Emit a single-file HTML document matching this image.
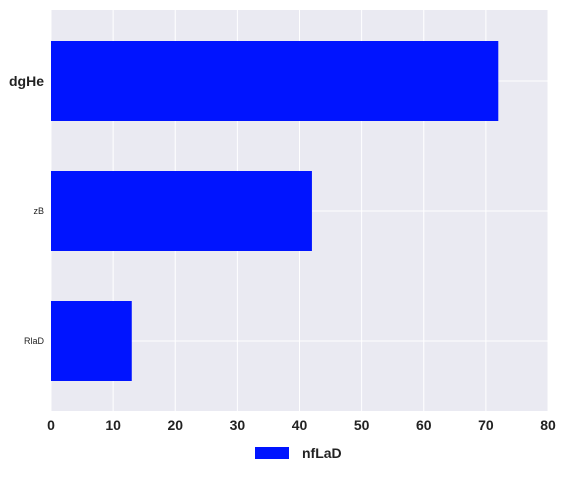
<!DOCTYPE html>
<html><head><meta charset="utf-8"><style>
body{margin:0;background:#fff;width:568px;height:497px;overflow:hidden}
text{font-family:"Liberation Sans",sans-serif}
</style></head><body>
<svg id="chart" width="568" height="497">
<rect x="51" y="10" width="497" height="401" fill="#eaeaf2"/>
<g id="grid"></g><g id="bars"></g><g id="xticks"></g><g id="ylabels"></g>
<g>
<rect x="255" y="447" width="34" height="12" fill="#0014ff"/>
<text x="302" y="458" font-size="14" font-weight="bold" fill="#222">nfLaD</text>
</g>
</svg>
<script>
const categories=["dgHe","zB","RlaD"];
const values=[72,42,13];
const xTicks=[0,10,20,30,40,50,60,70,80];
const ns="http://www.w3.org/2000/svg";
const x0=51,xScale=497/80;
function xp(v){return x0+v*xScale;}
function yc(i){return 81+130*i;}
function mk(tag,attrs,parent){const e=document.createElementNS(ns,tag);for(const k in attrs)e.setAttribute(k,attrs[k]);document.getElementById(parent).appendChild(e);return e;}
xTicks.forEach(t=>{
  const l=mk("line",{x1:xp(t),x2:xp(t),y1:10,y2:411,stroke:"#fff","stroke-width":1},"grid");
  
  
  const tx=mk("text",{x:xp(t),y:430,"font-size":14,"font-weight":"bold","text-anchor":"middle",fill:"#222"},"xticks");
  tx.textContent=t;
  
  
});
categories.forEach((c,i)=>{
  const l=mk("line",{x1:51,x2:548,y1:yc(i),y2:yc(i),stroke:"#fff","stroke-width":1},"grid");
  
  
  const b=mk("rect",{x:xp(0),y:yc(i)-40,width:xp(values[i])-xp(0),height:80,fill:"#0014ff"},"bars");
  
  
  const big=i===0;
  const t=mk("text",{x:44,y:yc(i)+(big?5:3),"font-size":big?14:9,"font-weight":big?"bold":"normal","text-anchor":"end",fill:"#222"},"ylabels");
  t.textContent=c;
  
  
});
</script>
</body></html>
